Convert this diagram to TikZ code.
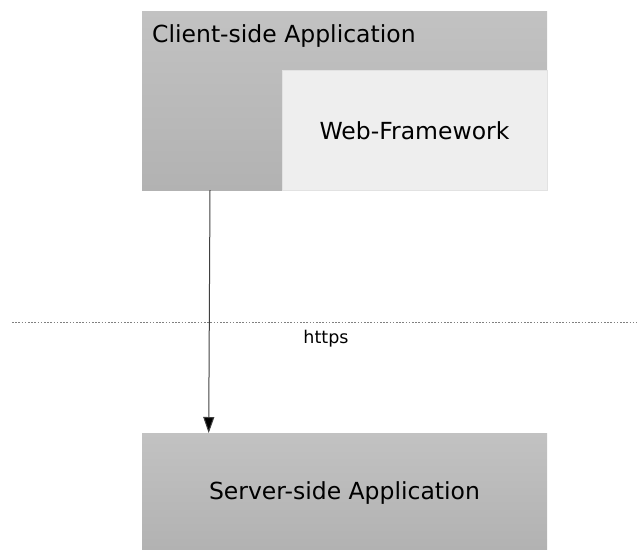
\documentclass[tikz,border=0pt]{standalone}
\usepackage{fontspec}
\setmainfont{DejaVu Sans}
\usetikzlibrary{arrows.meta}
\definecolor{boxtop}{HTML}{C2C2C2}
\definecolor{boxbot}{HTML}{B2B2B2}
\definecolor{webfill}{HTML}{EEEEEE}
\definecolor{webline}{HTML}{E2E2E2}
\tikzset{
  graybox/.style={draw=none, top color=boxtop, bottom color=boxbot},
  lbl/.style={font=\fontsize{23.5}{26}\selectfont, text=black, inner sep=0pt},
  small/.style={font=\fontsize{17.5}{20}\selectfont, text=black, inner sep=0pt},
}
\begin{document}
\begin{tikzpicture}[x=1pt,y=-1pt]
\useasboundingbox (0,0) rectangle (637,549);
% client-side box
\path[graybox] (142,11) rectangle (547,190);
\node[draw=none, inner sep=0pt, minimum width=405pt, minimum height=179pt] (client) at (344.5,100.5) {};
\node[lbl, anchor=base west] (clientlbl) at (152,42) {Client-side Application};
% web framework
\path[fill=webfill, draw=webline, line width=0.8pt] (282.4,70.4) rectangle (547,190);
\node[lbl] (web) at (414.5,131) {Web-Framework};
% server box
\path[graybox] (142,433) rectangle (547,549);
\node[draw=none, inner sep=0pt, minimum width=405pt, minimum height=116pt] (server) at (344.5,491) {};
\node[lbl] (serverlbl) at (344.5,493) {Server-side Application};
% dotted boundary
\coordinate (dl) at (12,322.5);
\coordinate (dr) at (637,322.5);
\draw[gray, line width=1pt, dash pattern=on 1.6pt off 1.6pt] (dl) -- (dr);
\node[small] (https) at (326,338.5) {https};
% arrow
\coordinate (as) at (210,190);
\coordinate (ae) at (208.7,433);
\draw[black!75, line width=1pt, -{Triangle[length=16pt,width=11pt,fill=black]}] (as) -- (ae);
\end{tikzpicture}
\end{document}
